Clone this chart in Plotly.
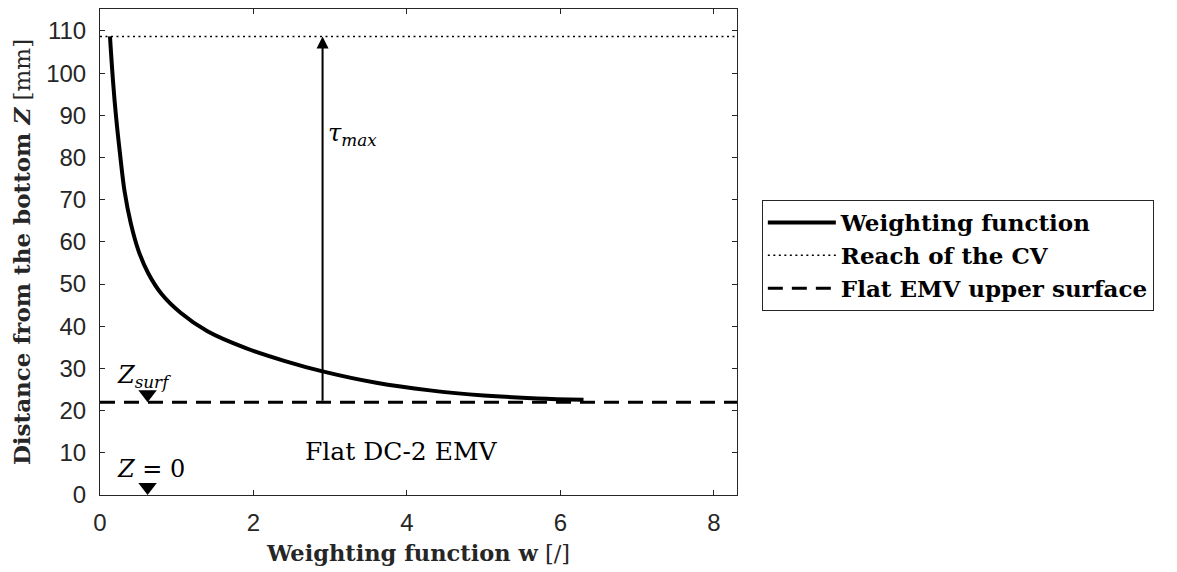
import plotly.graph_objects as go

# Weighting function curve
w_vals = [0.13, 0.17, 0.21, 0.26, 0.32, 0.40, 0.50, 0.63, 0.80, 1.05, 1.40,
          1.90, 2.40, 2.90, 3.60, 4.30, 5.00, 5.70, 6.30]
z_vals = [108.7, 98.0, 89.5, 81.0, 72.0, 64.5, 58.0, 52.5, 47.7, 43.2, 38.8,
          34.8, 31.8, 29.3, 26.6, 24.8, 23.6, 22.9, 22.6]

x_range = [0, 8.3]
y_range = [0, 115.2]
z_reach = 108.7        # reach of the CV
z_surf = 22.0          # flat EMV upper surface
tau_x = 2.9            # position of tau_max arrow
marker_x = [0.62, 0.62]
marker_z = [23.9, 1.9]  # triangle centres, tips resting on Z_surf and Z = 0

x_ticks = [0, 2, 4, 6, 8]
y_ticks = list(range(0, 111, 10))

SERIF = "DejaVu Serif"
SANS = "Liberation Sans"
AX = "#262626"

fig = go.Figure()

fig.add_trace(go.Scatter(
    x=w_vals, y=z_vals, mode="lines", name="<b>Weighting function</b>",
    line=dict(color="black", width=4, shape="spline", smoothing=1.0)))

fig.add_trace(go.Scatter(
    x=x_range, y=[z_reach, z_reach], mode="lines", name="<b>Reach of the CV</b>",
    line=dict(color="black", width=1.5, dash="2px,3.5px")))

fig.add_trace(go.Scatter(
    x=x_range, y=[z_surf, z_surf], mode="lines", name="<b>Flat EMV upper surface</b>",
    line=dict(color="black", width=3, dash="15px,9px")))

# triangle markers
fig.add_trace(go.Scatter(
    x=marker_x, y=marker_z, mode="markers", showlegend=False,
    marker=dict(symbol="triangle-down", size=16, color="black", line=dict(width=0)),
    cliponaxis=False, hoverinfo="skip"))

# tau_max arrow
fig.add_annotation(x=tau_x, y=z_reach, ax=tau_x, ay=z_surf,
                   xref="x", yref="y", axref="x", ayref="y",
                   showarrow=True, arrowhead=2, arrowsize=1.2, arrowwidth=2,
                   arrowcolor="black", text="")

ann_font = dict(family=SERIF, size=24, color="black")
fig.add_annotation(x=2.95, y=85.5, xref="x", yref="y", xanchor="left", yanchor="middle",
                   text="<i>τ</i><sub><i>max</i></sub>", showarrow=False, font=ann_font)
fig.add_annotation(x=0.20, y=28.0, xref="x", yref="y", xanchor="left", yanchor="middle",
                   text="<i>Z</i><sub><i>surf</i></sub>", showarrow=False, font=ann_font)
fig.add_annotation(x=0.20, y=6.2, xref="x", yref="y", xanchor="left", yanchor="middle",
                   text="<i>Z</i> = 0", showarrow=False, font=ann_font)
fig.add_annotation(x=3.93, y=10.4, xref="x", yref="y", xanchor="center", yanchor="middle",
                   text="Flat DC-2 EMV", showarrow=False,
                   font=dict(family=SERIF, size=25, color="black"))

axis_common = dict(showline=True, linecolor=AX, linewidth=1, mirror="ticks",
                   ticks="inside", ticklen=5, tickcolor=AX, showgrid=False,
                   zeroline=False, tickfont=dict(family=SANS, size=24, color=AX))

fig.update_xaxes(range=x_range, tickvals=x_ticks, ticklabelstandoff=6, **axis_common,
                 title=dict(text="<b>Weighting function w</b> [/]",
                            font=dict(family=SERIF, size=22.5, color=AX), standoff=10))
fig.update_yaxes(range=y_range, tickvals=y_ticks, ticklabelstandoff=8, **axis_common,
                 title=dict(text="<b>Distance from the bottom <i>Z</i></b> [mm]",
                            font=dict(family=SERIF, size=23, color=AX), standoff=14))

fig.update_layout(
    width=1169, height=564,
    margin=dict(l=92, r=440, t=1, b=77),
    plot_bgcolor="white", paper_bgcolor="white",
    legend=dict(x=1.039, y=0.607, xanchor="left", yanchor="top",
                bgcolor="white", bordercolor=AX, borderwidth=1,
                font=dict(family=SERIF, size=23, color="black"),
                itemwidth=68, tracegroupgap=0),
    showlegend=True,
)

fig.write_html("out.html")
